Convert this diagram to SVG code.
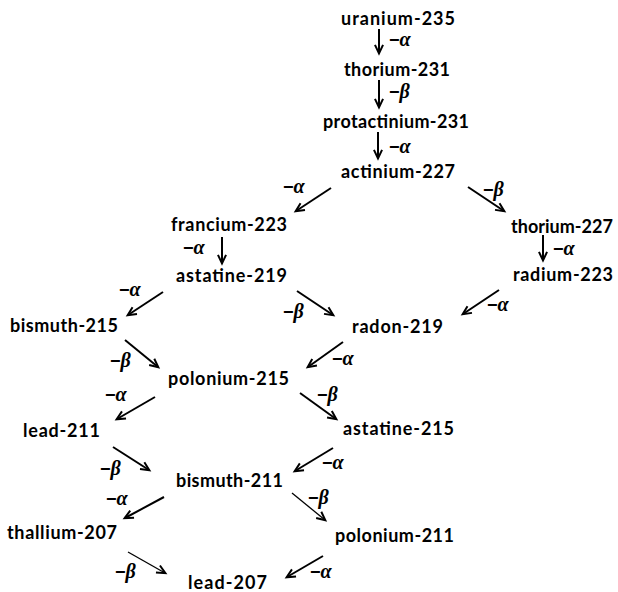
<svg xmlns="http://www.w3.org/2000/svg" width="618" height="592" viewBox="0 0 618 592">
<style>
.n{font-family:"Lato","Liberation Sans",sans-serif;font-weight:bold;font-size:18px;fill:#000}
.l{font-family:"Liberation Sans",sans-serif;font-weight:bold;font-size:18px;fill:#000}
.g{font-family:"Liberation Serif",serif;font-style:italic;font-weight:bold;font-size:20px}
.c{stroke:#000;stroke-width:2;fill:none;marker-end:url(#ah)}
.t{stroke:#000;stroke-width:1.3;fill:none;marker-end:url(#ah)}
</style>
<defs>
<marker id="ah" viewBox="0 0 10 10" refX="9" refY="5" markerWidth="9" markerHeight="9" markerUnits="userSpaceOnUse" orient="auto" overflow="visible">
<path d="M0,0.5 L9.5,5 L0,9.5" stroke="#000" stroke-width="2.2" fill="none"/>
</marker>
</defs>
<rect width="618" height="592" fill="#fff"/>
<g id="connectors">
<line class="c" x1="379" y1="29" x2="379" y2="53"/>
<line class="c" x1="379" y1="80" x2="379" y2="107"/>
<line class="c" x1="378" y1="132" x2="378" y2="158"/>
<line class="c" x1="331" y1="188" x2="296" y2="211"/>
<line class="c" x1="468" y1="187" x2="504" y2="211"/>
<line class="c" x1="222" y1="237" x2="222" y2="263"/>
<line class="c" x1="543" y1="235" x2="543" y2="260"/>
<line class="c" x1="163" y1="292" x2="128" y2="315"/>
<line class="c" x1="297" y1="291" x2="333" y2="315"/>
<line class="c" x1="499" y1="290" x2="463" y2="314"/>
<line class="c" x1="125" y1="340" x2="158" y2="367"/>
<line class="c" x1="343" y1="342" x2="308" y2="367"/>
<line class="c" x1="155" y1="397" x2="117" y2="419"/>
<line class="c" x1="300" y1="393" x2="336" y2="419"/>
<line class="c" x1="113" y1="447" x2="149" y2="470"/>
<line class="c" x1="333" y1="448" x2="295" y2="471"/>
<line class="c" x1="164" y1="497" x2="125" y2="518"/>
<line class="t" x1="292" y1="493" x2="325" y2="520"/>
<line class="c" x1="323" y1="556" x2="287" y2="577"/>
<line class="t" x1="128" y1="552" x2="165" y2="573"/>
</g>
<g id="labels">
<text class="l" x="389" y="46">−<tspan class="g">α</tspan></text>
<text class="l" x="389" y="98">−<tspan class="g">β</tspan></text>
<text class="l" x="389" y="153">−<tspan class="g">α</tspan></text>
<text class="l" x="283" y="193">−<tspan class="g">α</tspan></text>
<text class="l" x="483" y="196">−<tspan class="g">β</tspan></text>
<text class="l" x="183" y="254">−<tspan class="g">α</tspan></text>
<text class="l" x="553" y="255">−<tspan class="g">α</tspan></text>
<text class="l" x="119" y="296">−<tspan class="g">α</tspan></text>
<text class="l" x="283" y="318">−<tspan class="g">β</tspan></text>
<text class="l" x="487" y="311">−<tspan class="g">α</tspan></text>
<text class="l" x="110" y="367">−<tspan class="g">β</tspan></text>
<text class="l" x="332" y="365">−<tspan class="g">α</tspan></text>
<text class="l" x="105" y="401">−<tspan class="g">α</tspan></text>
<text class="l" x="317" y="401">−<tspan class="g">β</tspan></text>
<text class="l" x="100" y="475">−<tspan class="g">β</tspan></text>
<text class="l" x="322" y="469">−<tspan class="g">α</tspan></text>
<text class="l" x="106" y="505">−<tspan class="g">α</tspan></text>
<text class="l" x="308" y="504">−<tspan class="g">β</tspan></text>
<text class="l" x="310" y="578">−<tspan class="g">α</tspan></text>
<text class="l" x="115" y="578">−<tspan class="g">β</tspan></text>
</g>
<g id="uranium-235"><text class="n" x="341" y="25" textLength="114" lengthAdjust="spacing">uranium-235</text></g>
<g id="thorium-231"><text class="n" x="344" y="76" textLength="106" lengthAdjust="spacing">thorium-231</text></g>
<g id="protactinium-231"><text class="n" x="323" y="128" textLength="146" lengthAdjust="spacing">protactinium-231</text></g>
<g id="actinium-227"><text class="n" x="341" y="178" textLength="114" lengthAdjust="spacing">actinium-227</text></g>
<g id="francium-223"><text class="n" x="171" y="231" textLength="116" lengthAdjust="spacing">francium-223</text></g>
<g id="thorium-227"><text class="n" x="511" y="233" textLength="102" lengthAdjust="spacing">thorium-227</text></g>
<g id="astatine-219"><text class="n" x="176" y="282" textLength="111" lengthAdjust="spacing">astatine-219</text></g>
<g id="radium-223"><text class="n" x="513" y="281" textLength="100" lengthAdjust="spacing">radium-223</text></g>
<g id="bismuth-215"><text class="n" x="10" y="332" textLength="108" lengthAdjust="spacing">bismuth-215</text></g>
<g id="radon-219"><text class="n" x="352" y="333" textLength="91" lengthAdjust="spacing">radon-219</text></g>
<g id="polonium-215"><text class="n" x="168" y="385" textLength="121" lengthAdjust="spacing">polonium-215</text></g>
<g id="lead-211"><text class="n" x="23" y="437" textLength="77" lengthAdjust="spacing">lead-211</text></g>
<g id="astatine-215"><text class="n" x="343" y="435" textLength="111" lengthAdjust="spacing">astatine-215</text></g>
<g id="bismuth-211"><text class="n" x="176" y="487" textLength="107" lengthAdjust="spacing">bismuth-211</text></g>
<g id="thallium-207"><text class="n" x="7" y="539" textLength="110" lengthAdjust="spacing">thallium-207</text></g>
<g id="polonium-211"><text class="n" x="335" y="542" textLength="119" lengthAdjust="spacing">polonium-211</text></g>
<g id="lead-207"><text class="n" x="188" y="589" textLength="79" lengthAdjust="spacing">lead-207</text></g>
</svg>
